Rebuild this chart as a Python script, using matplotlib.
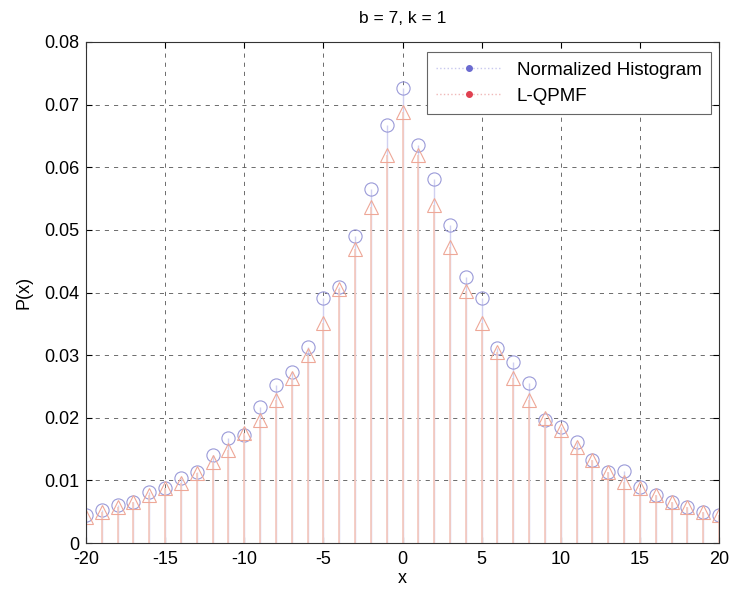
import matplotlib
matplotlib.use("Agg")
import matplotlib.pyplot as plt
from matplotlib.lines import Line2D
import numpy as np

plt.rcParams['font.family'] = ['Liberation Sans', 'DejaVu Sans']
plt.rcParams['axes.unicode_minus'] = False

x_vals = list(range(-20, 21))
hist_vals = [0.0044, 0.0052, 0.0061, 0.0066, 0.0081, 0.0088, 0.0104, 0.0113, 0.0140, 0.0167,
             0.0172, 0.0217, 0.0252, 0.0273, 0.0313, 0.0391, 0.0408, 0.0491, 0.0566, 0.0667,
             0.0727,
             0.0635, 0.0582, 0.0507, 0.0424, 0.0391, 0.0311, 0.0289, 0.0255, 0.0196, 0.0185,
             0.0161, 0.0132, 0.0113, 0.0115, 0.0089, 0.0077, 0.0066, 0.0058, 0.0049, 0.0044]
qpmf_vals = [0.0042, 0.0050, 0.0058, 0.0066, 0.0077, 0.0088, 0.0096, 0.0111, 0.0129, 0.0148,
             0.0175, 0.0196, 0.0228, 0.0263, 0.0300, 0.0351, 0.0405, 0.0470, 0.0536, 0.0619,
             0.0688,
             0.0619, 0.0539, 0.0472, 0.0403, 0.0351, 0.0305, 0.0263, 0.0228, 0.0199, 0.0180,
             0.0153, 0.0132, 0.0113, 0.0097, 0.0088, 0.0077, 0.0066, 0.0058, 0.0049, 0.0044]

title = "b = 7, k = 1"
legend_labels = ["Normalized Histogram", "L-QPMF"]

hist_color = '#9a9ad8'
hist_stem = '#d0d0f0'
qpmf_color = '#eea898'
qpmf_stem = '#f6c8bc'

fig = plt.figure(figsize=(7.34, 5.92), dpi=100)
ax = fig.add_axes([86/734, 49/592, 633/734, 501/592])

ml, sl, bl = ax.stem(x_vals, hist_vals, basefmt=' ')
plt.setp(sl, color=hist_stem, linewidth=1.0)
plt.setp(ml, marker='o', markersize=9.5, markerfacecolor='none', markeredgecolor=hist_color,
         markeredgewidth=0.8)

ml2, sl2, bl2 = ax.stem(x_vals, qpmf_vals, basefmt=' ')
plt.setp(sl2, color=qpmf_stem, linewidth=1.2)
plt.setp(ml2, marker='^', markersize=10, markerfacecolor='none', markeredgecolor=qpmf_color,
         markeredgewidth=0.8)

ax.set_xlim(-20, 20)
ax.set_ylim(0, 0.08)
ax.set_xticks(range(-20, 21, 5))
ax.set_yticks(np.arange(0, 0.0801, 0.01))
ax.set_yticklabels(['0', '0.01', '0.02', '0.03', '0.04', '0.05', '0.06', '0.07', '0.08'])
ax.grid(True, linestyle=(0, (5, 6)), color='#555555', linewidth=0.6)
ax.set_axisbelow(True)
ax.tick_params(direction='in', labelsize=13, length=4, top=True, right=True)
ax.tick_params(axis='x', pad=6)
ax.tick_params(axis='y', pad=5)
for s in ax.spines.values():
    s.set_color('#333333')
    s.set_linewidth(0.8)

ax.set_title(title, fontsize=12.5, pad=14)
ax.set_xlabel('x', fontsize=13, labelpad=1)
ax.set_ylabel('P(x)', fontsize=13, labelpad=8)

handles = [
    Line2D([0], [0], color='#c8c8ee', linestyle=':', linewidth=1, marker='o', markersize=4,
           markerfacecolor='#6b6bd0', markeredgecolor='#6b6bd0'),
    Line2D([0], [0], color='#f0b8b8', linestyle=':', linewidth=1, marker='o', markersize=4,
           markerfacecolor='#e04050', markeredgecolor='#e04050'),
]
leg = ax.legend(handles, legend_labels, loc='upper right', fontsize=13.5, fancybox=False,
                edgecolor='#666666', framealpha=1, handlelength=3.5, borderaxespad=0,
                bbox_to_anchor=(0.987, 0.980), labelspacing=0.5, borderpad=0.5)
leg.get_frame().set_linewidth(0.8)

fig.savefig('out.png', dpi=100)
